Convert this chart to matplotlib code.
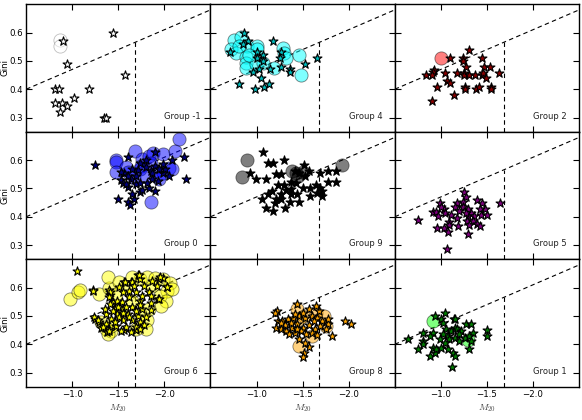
import matplotlib
matplotlib.use("Agg")

import matplotlib.pyplot as plt

# -----------------------------
# DATA
# -----------------------------
panel_order = ["-1", "4", "2", "0", "9", "5", "6", "8", "1"]

star_color = {"-1": "white", "4": (0, 0.75, 0.75), "2": "darkred", "0": "navy",
              "9": "black", "5": "purple", "6": "yellow", "8": "orange", "1": "green"}
circ_color = {"-1": "white", "4": "cyan", "2": "red", "0": "blue",
              "9": "black", "5": "purple", "6": "yellow", "8": "orange", "1": "lime"}

# group -1
star_m20_gm1 = [-1.44, -0.90, -0.94, -1.57, -0.81, -0.86, -1.18, -1.02, -0.81, -0.89,
                -0.94, -0.87, -1.34, -1.37]
star_gini_gm1 = [0.60, 0.57, 0.49, 0.45, 0.40, 0.40, 0.40, 0.37, 0.35, 0.35,
                 0.34, 0.32, 0.30, 0.30]
circ_m20_gm1 = [-0.87, -0.87]
circ_gini_gm1 = [0.572, 0.551]

# group 4
star_m20_g4 = [-0.86, -0.91, -0.85, -0.71, -1.18, -1.01, -1.07, -1.01, -1.07, -1.26,
               -1.25, -1.27, -1.53, -1.66, -1.15, -1.03, -0.96, -1.36, -1.36, -1.05,
               -0.81, -0.98, -1.08, -1.14]
star_gini_g4 = [0.60, 0.569, 0.559, 0.531, 0.569, 0.531, 0.521, 0.509, 0.499, 0.531,
                0.509, 0.48, 0.489, 0.509, 0.471, 0.471, 0.46, 0.471, 0.46, 0.44,
                0.42, 0.40, 0.409, 0.42]
circ_m20_g4 = [-0.75, -0.83, -0.72, -0.78, -0.90, -1.00, -1.01, -0.89, -0.88, -0.89,
               -0.99, -1.07, -1.29, -1.30, -1.32, -1.19, -1.46, -1.48, -0.81, -0.92]
circ_gini_g4 = [0.572, 0.584, 0.541, 0.527, 0.551, 0.551, 0.541, 0.513, 0.494, 0.474,
                0.489, 0.494, 0.547, 0.527, 0.509, 0.474, 0.519, 0.45, 0.551, 0.521]

# group 2
star_m20_g2 = [-1.31, -1.10, -1.24, -1.24, -1.45, -1.27, -0.93, -0.91, -0.84, -0.90,
               -1.05, -1.18, -1.25, -1.25, -1.31, -1.37, -1.45, -1.47, -1.53, -1.46,
               -1.49, -1.63, -1.07, -1.10, -0.96, -1.26, -1.26, -1.38, -1.41, -1.54,
               -1.54, -1.14, -0.90]
star_gini_g2 = [0.539, 0.509, 0.509, 0.498, 0.509, 0.48, 0.468, 0.462, 0.451, 0.451,
                0.459, 0.459, 0.459, 0.451, 0.451, 0.451, 0.451, 0.48, 0.48, 0.459,
                0.439, 0.459, 0.429, 0.421, 0.409, 0.407, 0.40, 0.40, 0.409, 0.407,
                0.40, 0.38, 0.36]
circ_m20_g2 = [-1.00]
circ_gini_g2 = [0.509]

# group 0
star_m20_g0 = [-1.25, -1.60, -2.21, -2.23, -2.08, -1.90, -1.50, -1.60, -1.63, -1.67,
               -1.65, -1.73, -1.76, -1.83, -1.90, -1.53, -1.55, -1.56, -1.53, -1.64,
               -1.69, -1.71, -1.80, -1.85, -1.87, -1.93, -1.98, -2.01, -2.05, -1.99,
               -1.74, -1.80, -1.69, -1.74, -1.61, -1.58, -1.81, -1.87, -1.90, -1.94,
               -1.65, -1.60]
star_gini_g0 = [0.581, 0.612, 0.612, 0.532, 0.60, 0.628, 0.461, 0.452, 0.44, 0.461,
                0.482, 0.487, 0.496, 0.502, 0.491, 0.529, 0.518, 0.553, 0.558, 0.534,
                0.544, 0.565, 0.576, 0.561, 0.532, 0.526, 0.555, 0.567, 0.544, 0.585,
                0.591, 0.602, 0.514, 0.52, 0.506, 0.514, 0.52, 0.553, 0.579, 0.567,
                0.569, 0.544]
circ_m20_g0 = [-1.47, -1.48, -1.48, -1.68, -1.76, -1.83, -1.88, -1.98, -2.11, -2.16,
               -1.75, -1.85, -1.58, -1.60, -1.73, -1.90, -1.99, -2.05, -1.85, -1.94,
               -1.67, -1.80, -2.08]
circ_gini_g0 = [0.602, 0.593, 0.558, 0.632, 0.605, 0.616, 0.624, 0.62, 0.632, 0.673,
                0.579, 0.591, 0.576, 0.558, 0.567, 0.561, 0.555, 0.573, 0.452, 0.532,
                0.538, 0.544, 0.567]

# group 9
star_m20_g9 = [-1.07, -1.12, -1.18, -1.30, -1.51, -0.93, -1.21, -1.26, -0.99, -1.10,
               -1.42, -1.46, -1.57, -1.53, -1.69, -1.77, -1.86, -1.78, -1.86, -1.23,
               -1.30, -1.37, -1.43, -1.37, -1.32, -1.17, -1.12, -1.26, -1.37, -1.44,
               -1.50, -1.58, -1.64, -1.69, -1.71, -1.66, -1.58, -1.71, -1.06, -1.21,
               -1.27, -1.20, -1.36, -1.46, -1.10, -1.18, -1.31]
star_gini_g9 = [0.63, 0.591, 0.591, 0.60, 0.581, 0.553, 0.552, 0.552, 0.532, 0.532,
                0.561, 0.555, 0.561, 0.544, 0.553, 0.56, 0.56, 0.522, 0.522, 0.511,
                0.511, 0.522, 0.518, 0.499, 0.494, 0.491, 0.481, 0.479, 0.481, 0.481,
                0.502, 0.502, 0.511, 0.502, 0.491, 0.485, 0.473, 0.473, 0.461, 0.461,
                0.461, 0.449, 0.452, 0.452, 0.431, 0.422, 0.431]
circ_m20_g9 = [-0.90, -0.84, -1.38, -1.45, -1.50, -1.93, -1.43]
circ_gini_g9 = [0.60, 0.541, 0.561, 0.544, 0.558, 0.581, 0.555]

# group 5
star_m20_g5 = [-1.25, -1.27, -0.99, -1.17, -1.15, -1.24, -1.39, -1.45, -1.48, -1.42,
               -1.64, -0.91, -0.95, -1.03, -1.05, -0.97, -1.11, -1.17, -1.24, -1.29,
               -1.33, -1.29, -1.36, -1.44, -1.50, -1.27, -0.75, -1.09, -1.09, -1.28,
               -1.35, -1.39, -1.31, -1.42, -1.19, -0.96, -1.03, -1.08, -1.29, -1.07,
               -1.00, -1.20]
star_gini_g5 = [0.488, 0.468, 0.448, 0.448, 0.433, 0.451, 0.459, 0.447, 0.427, 0.427,
                0.447, 0.418, 0.418, 0.427, 0.412, 0.404, 0.407, 0.395, 0.433, 0.429,
                0.415, 0.404, 0.404, 0.407, 0.407, 0.415, 0.388, 0.38, 0.372, 0.385,
                0.385, 0.376, 0.372, 0.367, 0.367, 0.359, 0.359, 0.347, 0.339, 0.286,
                0.433, 0.421]
circ_m20_g5 = []
circ_gini_g5 = []

# group 6
star_m20_g6 = [-1.05, -1.23, -1.25, -1.29, -1.31, -1.38, -1.40, -1.40, -1.41, -1.44,
               -1.56, -1.64, -1.71, -1.73, -1.94, -1.98, -2.03, -1.93, -1.85, -1.56,
               -1.69, -1.72, -1.57, -1.65, -1.95, -2.03, -1.92, -1.78, -1.83, -1.69,
               -1.55, -1.41, -1.40, -1.94, -1.85, -1.62, -1.73, -1.54, -1.47, -1.65,
               -1.76, -1.37, -1.49, -1.60, -1.71, -1.80, -1.42, -1.55, -1.65, -1.74,
               -1.37, -1.48, -1.58, -1.69, -1.78, -1.40, -1.53, -1.64, -1.44, -1.55,
               -1.62, -1.51, -1.87, -1.24, -1.28, -1.33, -1.23, -1.35, -1.85, -1.76,
               -1.67, -1.49, -1.41, -1.69, -1.62, -1.51, -1.46, -1.55, -1.74, -1.58,
               -1.73, -1.50]
star_gini_g6 = [0.66, 0.591, 0.488, 0.479, 0.459, 0.444, 0.453, 0.591, 0.573, 0.551,
                0.62, 0.62, 0.645, 0.629, 0.629, 0.635, 0.602, 0.559, 0.52, 0.449,
                0.449, 0.646, 0.619, 0.619, 0.636, 0.601, 0.607, 0.607, 0.584, 0.584,
                0.584, 0.584, 0.566, 0.56, 0.545, 0.566, 0.554, 0.548, 0.531, 0.533,
                0.525, 0.507, 0.507, 0.507, 0.501, 0.495, 0.489, 0.484, 0.484, 0.478,
                0.472, 0.466, 0.462, 0.462, 0.469, 0.448, 0.448, 0.442, 0.519, 0.525,
                0.589, 0.601, 0.625, 0.495, 0.484, 0.46, 0.589, 0.525, 0.572, 0.572,
                0.604, 0.554, 0.542, 0.519, 0.495, 0.495, 0.478, 0.509, 0.539, 0.533,
                0.454, 0.531]
circ_m20_g6 = [-0.98, -1.06, -1.08, -1.29, -1.40, -1.39, -1.73, -1.81, -1.90, -1.98,
               -2.06, -2.03, -2.08, -1.87, -1.95, -2.02, -1.96, -1.83, -1.73, -1.81,
               -1.80, -1.69, -1.42, -1.37, -1.31, -1.39, -1.42, -1.58, -1.51, -1.65,
               -1.53, -1.65, -1.48]
circ_gini_g6 = [0.561, 0.585, 0.592, 0.579, 0.60, 0.636, 0.631, 0.636, 0.633, 0.631,
                0.615, 0.589, 0.595, 0.607, 0.572, 0.554, 0.536, 0.525, 0.507, 0.484,
                0.454, 0.454, 0.448, 0.454, 0.478, 0.436, 0.466, 0.601, 0.619, 0.636,
                0.507, 0.554, 0.578]

# group 8
star_m20_g8 = [-1.44, -1.22, -1.20, -1.96, -2.02, -1.82, -1.57, -1.51, -1.50, -1.46,
               -1.53, -1.23, -1.28, -1.34, -1.39, -1.46, -1.53, -1.60, -1.66, -1.71,
               -1.77, -1.21, -1.26, -1.32, -1.38, -1.44, -1.50, -1.57, -1.63, -1.69,
               -1.75, -1.35, -1.42, -1.48, -1.54, -1.60, -1.66, -1.42, -1.50, -1.62,
               -1.68, -1.65, -1.57, -1.37, -1.31, -1.26, -1.44, -1.77]
star_gini_g8 = [0.541, 0.518, 0.509, 0.482, 0.471, 0.429, 0.391, 0.371, 0.356, 0.418,
                0.406, 0.482, 0.482, 0.488, 0.494, 0.50, 0.494, 0.50, 0.494, 0.482,
                0.471, 0.459, 0.455, 0.447, 0.459, 0.471, 0.459, 0.467, 0.455, 0.465,
                0.453, 0.435, 0.441, 0.447, 0.435, 0.441, 0.432, 0.506, 0.512, 0.482,
                0.518, 0.535, 0.524, 0.476, 0.467, 0.474, 0.453, 0.488]
circ_m20_g8 = [-1.44, -1.51, -1.64, -1.73, -1.75, -1.60, -1.46, -1.46]
circ_gini_g8 = [0.524, 0.50, 0.512, 0.50, 0.465, 0.429, 0.394, 0.488]

# group 1
star_m20_g1 = [-1.05, -0.94, -1.00, -1.02, -1.14, -1.15, -1.27, -1.33, -1.35, -1.50,
               -1.50, -0.81, -0.91, -0.88, -0.81, -0.81, -0.64, -0.75, -0.88, -0.91,
               -0.94, -0.95, -1.00, -1.06, -1.08, -1.11, -1.15, -1.18, -1.22, -1.09,
               -1.15, -1.20, -1.26, -1.31, -1.33, -1.31, -1.08, -1.13, -1.15, -1.12,
               -1.02, -0.99, -1.04, -1.20]
star_gini_g1 = [0.512, 0.50, 0.488, 0.476, 0.491, 0.488, 0.471, 0.471, 0.441, 0.449,
                0.429, 0.441, 0.441, 0.429, 0.412, 0.40, 0.42, 0.382, 0.359, 0.388,
                0.371, 0.382, 0.388, 0.453, 0.429, 0.447, 0.459, 0.453, 0.447, 0.418,
                0.424, 0.412, 0.424, 0.429, 0.412, 0.382, 0.382, 0.371, 0.359, 0.32,
                0.435, 0.418, 0.406, 0.435]
circ_m20_g1 = [-0.91, -1.29]
circ_gini_g1 = [0.482, 0.415]

stars = {"-1": (star_m20_gm1, star_gini_gm1), "4": (star_m20_g4, star_gini_g4),
         "2": (star_m20_g2, star_gini_g2), "0": (star_m20_g0, star_gini_g0),
         "9": (star_m20_g9, star_gini_g9), "5": (star_m20_g5, star_gini_g5),
         "6": (star_m20_g6, star_gini_g6), "8": (star_m20_g8, star_gini_g8),
         "1": (star_m20_g1, star_gini_g1)}
circles = {"-1": (circ_m20_gm1, circ_gini_gm1), "4": (circ_m20_g4, circ_gini_g4),
           "2": (circ_m20_g2, circ_gini_g2), "0": (circ_m20_g0, circ_gini_g0),
           "9": (circ_m20_g9, circ_gini_g9), "5": (circ_m20_g5, circ_gini_g5),
           "6": (circ_m20_g6, circ_gini_g6), "8": (circ_m20_g8, circ_gini_g8),
           "1": (circ_m20_g1, circ_gini_g1)}

# Lotz et al. merger / class boundaries
line_x = [-0.5, -2.5]
split_m20 = -1.68

# -----------------------------
# PLOT
# -----------------------------
plt.rcParams["mathtext.fontset"] = "cm"

fig, axes = plt.subplots(3, 3, figsize=(5.82, 4.2), dpi=100, sharex=True, sharey=True)
fig.subplots_adjust(left=0.045, right=0.995, top=0.99, bottom=0.079,
                    wspace=0, hspace=0)

for ax, grp in zip(axes.flat, panel_order):
    cx, cy = circles[grp]
    if len(cx):
        ec = "gray" if grp == "-1" else "black"
        ax.scatter(cx, cy, s=90, c=circ_color[grp], alpha=0.5,
                   edgecolors=ec, linewidths=0.6, zorder=2)
    sx, sy = stars[grp]
    ax.scatter(sx, sy, s=45, marker="*", c=star_color[grp],
               edgecolors="black", linewidths=0.8, zorder=3)

    ax.plot(line_x, [-0.14 * v + 0.33 for v in line_x], color="black",
            ls=(0, (4, 3)), lw=0.8, zorder=1)
    ax.plot([split_m20, split_m20], [0.25, -0.14 * split_m20 + 0.33],
            color="black", ls=(0, (4, 3)), lw=0.8, zorder=1)

    ax.text(0.75, 0.085, "Group " + grp, transform=ax.transAxes,
            fontsize=6, ha="left", va="bottom", color="#222222")

    ax.set_xlim(-0.5, -2.5)
    ax.set_ylim(0.25, 0.7)
    ax.set_xticks([-1.0, -1.5, -2.0])
    ax.set_yticks([0.3, 0.4, 0.5, 0.6])
    ax.tick_params(direction="in", top=True, right=True, length=4,
                   width=0.8, labelsize=6.2, pad=2)
    for sp in ax.spines.values():
        sp.set_linewidth(1.0)

for ax in axes[:, 0]:
    ax.set_ylabel("Gini", fontsize=6.2)
    ax.yaxis.set_label_coords(-0.088, 0.5)
for ax in axes[-1, :]:
    ax.set_xlabel("$M_{20}$", fontsize=7, labelpad=3, color="#444444")

plt.savefig("out.png", dpi=100)
plt.close()
